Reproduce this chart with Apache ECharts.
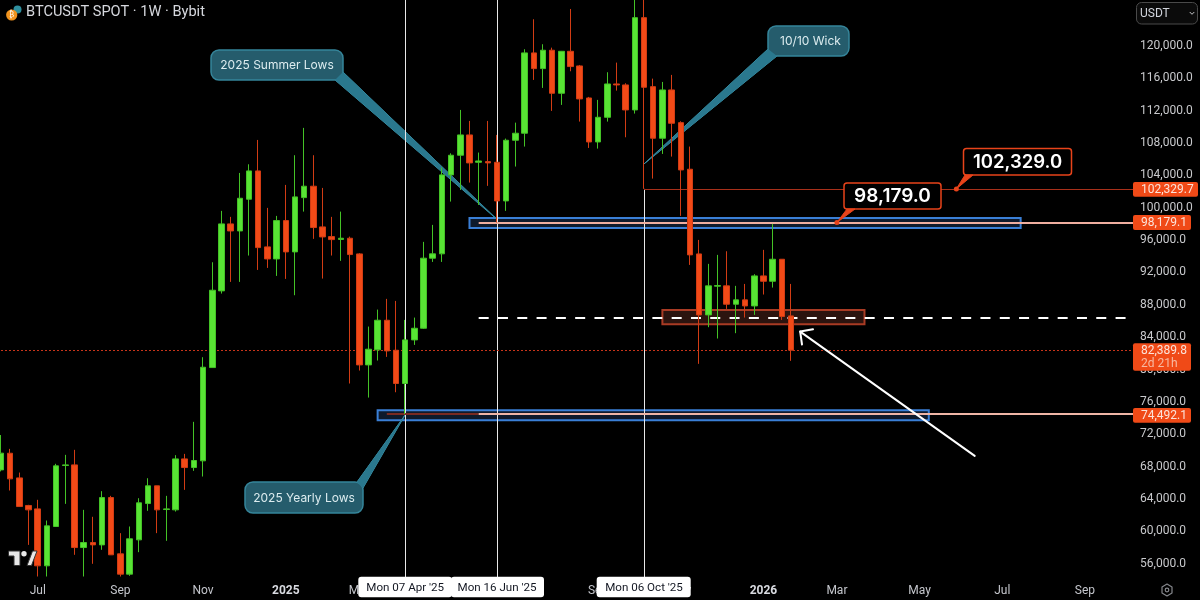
<!DOCTYPE html>
<html>
<head>
<meta charset="utf-8">
<style>html,body{margin:0;padding:0;background:#000}#c{width:1200px;height:600px}</style>
<script src="https://cdn.jsdelivr.net/npm/echarts@6/dist/echarts.min.js"></script>
</head>
<body>
<div id="c"></div>
<script>
const categories = [
'2024-06-03','2024-06-10','2024-06-17','2024-06-24','2024-07-01','2024-07-08','2024-07-15','2024-07-22','2024-07-29',
'2024-08-05','2024-08-12','2024-08-19','2024-08-26','2024-09-02','2024-09-09','2024-09-16','2024-09-23','2024-09-30',
'2024-10-07','2024-10-14','2024-10-21','2024-10-28','2024-11-04','2024-11-11','2024-11-18','2024-11-25',
'2024-12-02','2024-12-09','2024-12-16','2024-12-23','2024-12-30','2025-01-06','2025-01-13','2025-01-20','2025-01-27',
'2025-02-03','2025-02-10','2025-02-17','2025-02-24','2025-03-03','2025-03-10','2025-03-17','2025-03-24','2025-03-31',
'2025-04-07','2025-04-14','2025-04-21','2025-04-28','2025-05-05','2025-05-12','2025-05-19','2025-05-26',
'2025-06-02','2025-06-09','2025-06-16','2025-06-23','2025-06-30','2025-07-07','2025-07-14','2025-07-21','2025-07-28',
'2025-08-04','2025-08-11','2025-08-18','2025-08-25','2025-09-01','2025-09-08','2025-09-15','2025-09-22','2025-09-29',
'2025-10-06','2025-10-13','2025-10-20','2025-10-27','2025-11-03','2025-11-10','2025-11-17','2025-11-24',
'2025-12-01','2025-12-08','2025-12-15','2025-12-22','2025-12-29','2026-01-05','2026-01-12','2026-01-19','2026-01-26',
'2026-02-02','2026-02-09','2026-02-16','2026-02-23','2026-03-02','2026-03-09','2026-03-16','2026-03-23','2026-03-30',
'2026-04-06','2026-04-13','2026-04-20','2026-04-27','2026-05-04','2026-05-11','2026-05-18','2026-05-25',
'2026-06-01','2026-06-08','2026-06-15','2026-06-22','2026-06-29','2026-07-06','2026-07-13','2026-07-20','2026-07-27',
'2026-08-03','2026-08-10','2026-08-17','2026-08-24','2026-08-31','2026-09-07','2026-09-14','2026-09-21','2026-09-28',
'2026-10-05','2026-10-12','2026-10-19'];

const opens = [67590,69650,66600,63190,62770,55730,60590,68130,68210,57990,58610,58320,64170,57210,54700,58940,63430,65620,62690,62650,68950,67880,68710,
80240,89720,98000,97130,101050,104550,95160,93670,98410,94540,101250,102660,97630,96430,96080,96230,94290,80570,82430,86090,82380,78270,83660,85100,
93760,94300,104060,106490,109000,105620,105700,105620,100840,108340,109210,119140,117200,119470,114150,119340,117530,113570,108130,111180,115300,115180,112090,
123500,114970,108590,114560,110520,104760,94290,86750,90300,90340,88070,88610,87860,91570,90910,93630,86630];
const closes = [69660,66480,63060,62650,55730,60670,68090,68210,57990,58610,58320,64170,57090,54700,59070,63520,65620,62650,62770,68950,67880,68750,80280,
89800,98000,97130,101170,104550,95070,93670,98410,94540,101340,102660,97550,96390,96060,96230,94210,80570,82510,86090,82300,78270,83660,85100,93760,
94300,104060,106490,109000,105540,105780,105540,100840,108340,109210,119140,117200,119470,114150,119340,117450,113450,108130,111180,115300,115180,112090,123500,
114890,108590,114560,110440,104670,94170,86750,90340,90380,88070,88610,87860,91570,90910,93630,86550,82390];
const lows = [67400,65040,63060,58320,54410,54410,60590,63390,57090,54410,55980,57710,57090,54410,54490,57420,62530,59770,58820,62440,65120,67470,66770,
80240,89390,90830,90830,94090,92310,92560,91570,91200,89180,99520,96150,91240,94090,93430,78270,79870,76530,81110,81560,77190,74490,83040,85020,
93300,93300,100760,102200,103110,100350,102700,98180,99610,105090,107560,115800,114810,111970,112710,116870,110650,107390,107310,110650,114480,108710,111640,
102330,103600,106650,106320,98990,92930,80700,85230,83830,87490,84490,86420,86750,89270,90130,86130,81070];
const highs = [71900,70190,67260,63270,63890,61330,68340,69450,70070,62650,61790,64960,64380,59770,60590,64090,66560,65620,64380,69410,69570,73530,81520,
93260,99610,98870,104300,105370,108380,99980,98990,102820,106490,109870,106490,102450,98870,99520,96430,94380,85310,87410,88730,88480,86130,86420,95780,
97880,104960,106730,112090,110730,106820,110730,109000,108550,110520,119590,123300,120210,119790,119380,124570,117650,113700,113330,116750,117940,115390,126200,
126200,115960,115550,116420,110690,107560,96020,93060,94170,94620,90340,90580,91780,94790,98000,93630,90580];

const xTickLabels = {'2024-07-01':'Jul','2024-09-02':'Sep','2024-11-04':'Nov','2025-01-06':'2025','2025-03-03':'Mar','2025-05-05':'May','2025-07-07':'Jul','2025-09-01':'Sep','2025-11-03':'Nov','2026-01-05':'2026','2026-03-02':'Mar','2026-05-04':'May','2026-07-06':'Jul','2026-09-07':'Sep'};

const crosshairWeeks = ['2025-04-07','2025-06-16'];
const crosshairTexts = ["Mon 07 Apr '25","Mon 16 Jun '25","Mon 06 Oct '25"];
const priceMarks = {wickLow:102329.7, summerLow:98179.1, last:82389.8, yearlyLow:74492.1, midline:86380};
const summerZone = [98741,97505], yearlyZone = [74948,73737], midZone = [87370,85600];

const candleData = opens.map((o,i)=>[o,closes[i],lows[i],highs[i]]);
const FONT = 'Roboto, sans-serif';
const GREEN='#58e434', GREEN_B='#44c226', RED='#f24a17', RED_B='#d23c14';

const chart = echarts.init(document.getElementById('c'), null, {renderer:'canvas'});
const line = (a,b,style)=>[{coord:a,lineStyle:style},{coord:b}];
chart.setOption({
  animation:false,
  backgroundColor:'#000000',
  grid:{left:-3.593,top:0,width:1148.25,height:596,containLabel:false,outerBoundsMode:'none',show:false},
  xAxis:{type:'category',data:categories,boundaryGap:true,
    axisLine:{show:false},axisTick:{show:false},splitLine:{show:false},
    axisLabel:{inside:true,margin:-1,color:'#c4c6cc',fontFamily:FONT,fontSize:12,verticalAlign:'bottom',
      interval:(i,v)=>!!xTickLabels[v],
      formatter:v=>{const t=xTickLabels[v]||'';return /^20/.test(t)?'{b|'+t+'}':t;},
      rich:{b:{fontWeight:'bold',color:'#d8dae0',fontFamily:FONT,fontSize:12}}}},
  yAxis:{type:'value',position:'right',min:52000,max:125680,interval:4000,
    axisLine:{show:false},axisTick:{show:false},splitLine:{show:false},
    axisLabel:{margin:-4.6,color:'#c8c9cc',fontFamily:FONT,fontSize:12,showMinLabel:false,showMaxLabel:false,
      formatter:v=>(v===124000||v===52000||v===125680)?'':v.toLocaleString('en-US',{minimumFractionDigits:1,maximumFractionDigits:1})}},
  series:[{type:'candlestick',z:3,barWidth:6,data:candleData,silent:true,
    itemStyle:{color:GREEN,color0:RED,borderColor:GREEN_B,borderColor0:RED_B,borderWidth:1},
    markArea:{silent:true,z:1,data:[
      [{coord:[51,summerZone[0]],itemStyle:{color:'#0e1a2c',borderColor:'#3a7fd6',borderWidth:2}},{coord:[111,summerZone[1]]}],
      [{coord:[41,yearlyZone[0]],itemStyle:{color:'#0e1a2c',borderColor:'#3a7fd6',borderWidth:2}},{coord:[101,yearlyZone[1]]}],
      [{coord:[72,midZone[0]],itemStyle:{color:'#2c140f',borderColor:'#a93b24',borderWidth:2}},{coord:[94,midZone[1]]}]
    ]},
    markLine:{silent:true,z:2,symbol:'none',label:{show:false},data:[
      ...crosshairWeeks.map(w=>({xAxis:w,lineStyle:{color:'#e8e8e8',width:1,type:'solid'}})),
      line([70,priceMarks.wickLow],[70,52000],{color:'#e8e8e8',width:1,type:'solid'}),
      line([70,priceMarks.wickLow],[124,priceMarks.wickLow],{color:'#a8301a',width:1,type:'solid'}),
      line([52,priceMarks.summerLow],[124,priceMarks.summerLow],{color:'#efae9f',width:2,type:'solid'}),
      line([42,priceMarks.yearlyLow],[52,priceMarks.yearlyLow],{color:'#7a2a22',width:2,type:'solid'}),
      line([52,priceMarks.yearlyLow],[124,priceMarks.yearlyLow],{color:'#efb5a6',width:2,type:'solid'}),
      line([0,priceMarks.last],[124,priceMarks.last],{color:'#c8341a',width:1,type:[2,2]}),
      line([52,priceMarks.midline],[123,priceMarks.midline],{color:'#ffffff',width:2,type:[10,9.3]})
    ]}
  }]
});

const px=(wk,price)=>chart.convertToPixel({xAxisIndex:0,yAxisIndex:0},[wk,price]);
const rect=(x,y,w,h,fill,z,o={})=>({type:'rect',z,silent:true,shape:{x,y,width:w,height:h,r:o.r||0},style:{fill,stroke:o.stroke,lineWidth:o.lw||0}});
const text=(x,y,s,size,color,z,o={})=>({type:'text',z,silent:true,x,y,style:{text:s,fill:color,font:(o.weight||'400')+' '+size+'px '+(o.family||FONT),textAlign:o.align||'center',textVerticalAlign:'middle'}});
const poly=(pts,fill,stroke,z,lw)=>({type:'polygon',z,silent:true,shape:{points:pts},style:{fill,stroke,lineWidth:lw||1,lineJoin:'round'}});
const pline=(pts,stroke,z,lw)=>({type:'polyline',z,silent:true,shape:{points:pts},style:{fill:'none',stroke,lineWidth:lw||1,lineJoin:'round',lineCap:'round'}});
const circle=(cx,cy,r,fill,z,o={})=>({type:'circle',z,silent:true,shape:{cx,cy,r},style:{fill,stroke:o.stroke,lineWidth:o.lw||0}});

function callout(box,label,tip,b1,b2,dx){
  const [x,y,w,h]=box;
  return [
    poly([b1,tip,b2],'#2a788e','#3b94aa',1,1),
    rect(x,y,w,h,'#255c6c',1,{r:8,stroke:'#35859a',lw:1.5}),
    poly([b1,tip,b2],'#2a788e',null,1,0),
    text(x+w/2+(dx||0),y+h/2+.5,label,12,'#dcecef',1,{family:'Inter, sans-serif'})
  ];
}
function priceCallout(box,label,dot,b1,b2,size){
  const [x,y,w,h]=box;
  return [
    rect(x,y,w,h,'#000000',7,{r:3,stroke:'#e8431a',lw:1.5}),
    poly([b1,dot,b2],'#e8431a','#e8431a',7,1),
    circle(dot[0],dot[1],2.5,'#e8431a',7),
    text(x+w/2,y+h/2+.5,label,size,'#ffffff',7,{weight:'600',family:'Inter, sans-serif'})
  ];
}
function priceBox(y,h,w,lab,sub){
  const out=[rect(1133,y,w,h,'#f04a17',8,{r:2}),text(1141,y+7.5,lab,12,'#fbe3da',8,{align:'left'})];
  if(sub) out.push(text(1141,y+21,sub,12,'#f7b9a2',8,{align:'left'}));
  return out;
}
function timeBox(wk,label,left,right){
  const p=px(wk,60000)[0];
  return [rect(left,576.7,right-left,20.6,'#ffffff',9,{r:3}),text(p,588.5,label,11.6,'#131722',9)];
}

const tipSummer=px(54,98560), tipWick=px(70,105416), tipYearly=px(44,74393);
const dot98=px(91,priceMarks.summerLow), dot102=px(104,priceMarks.wickLow);
const arrowTip=px(86.87,84690), arrowTail=px(105.9,69324);
const els=[
  ...callout([211,50,132,30],'2025 Summer Lows',tipSummer,[335,80],[343,72]),
  ...callout([768,26,81,30],'10/10 Wick',tipWick,[768,49],[777,56],2),
  ...callout([245,482,118,31],'2025 Yearly Lows',tipYearly,[357,482],[363,488]),
  ...priceCallout([844,183,97,26],'98,179.0',dot98,[847,209],[855,209],19),
  ...priceCallout([963.5,148.5,108,26.5],'102,329.0',dot102,[965,175],[973,175],18.5),
  pline([arrowTail,arrowTip],'#ffffff',6,2),
  pline([[813,329.3],arrowTip,[802,344.5]],'#ffffff',6,2),
  ...priceBox(182,14.7,65,'102,329.7'),
  ...priceBox(215,15,58,'98,179.1'),
  ...priceBox(343.3,27.4,58,'82,389.8','2d 21h'),
  ...priceBox(408,14.7,58,'74,492.1'),
  ...timeBox(44,crosshairTexts[0],358.3,452),
  ...timeBox(54,crosshairTexts[1],451,544),
  ...timeBox(70,crosshairTexts[2],596.7,690.7),
  // USDT selector
  rect(1136.5,2.5,61,21.5,'#0b0b0b',8,{r:5,stroke:'#4a4a4a',lw:1}),
  text(1140,13.5,'USDT',12,'#d1d4dc',8,{align:'left'}),
  pline([[1190,12.3],[1192,14.3],[1194,12.3]],'#c8c9cc',8,1),
  // title with coin icon
  circle(17.5,9.5,4,'#2f8f9e',8),
  circle(11.7,15,5.6,'#f0931e',8),
  text(11.7,15.2,'\u20BF',7.5,'#fff',8,{family:'DejaVu Sans'}),
  text(26,12.5,'BTCUSDT SPOT \u00B7 1W \u00B7 Bybit',14.6,'#d6d8de',8,{align:'left'}),
  // watermark logo
  poly([[8.5,551],[20,551],[20,565.5],[14,565.5],[14,556],[8.5,556]],'#e8e8e8','#333',8,1),
  circle(24,553.7,2.7,'#e8e8e8',8),
  poly([[27,565.5],[32.5,551],[37,551],[31.5,565.5]],'#e8e8e8','#333',8,1),
  // settings gear
  poly([[1167,584],[1172,587],[1172,593],[1167,596],[1162,593],[1162,587]],'none','#85878c',8,1.2),
  circle(1167,590,1.8,'none',8,{stroke:'#85878c',lw:1.2})
];
chart.setOption({graphic:{elements:els}});
</script>
</body>
</html>
